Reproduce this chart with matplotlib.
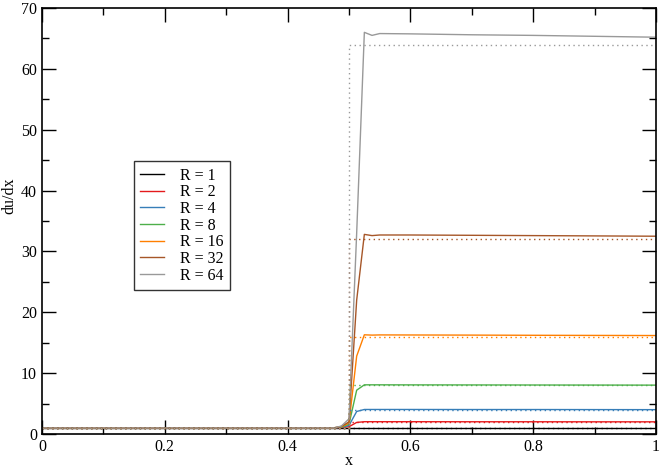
import matplotlib
matplotlib.use("Agg")
import matplotlib.pyplot as plt
from matplotlib.ticker import MultipleLocator, FuncFormatter

# ---- data ----
R_values = [1, 2, 4, 8, 16, 32, 64]
labels = ["R = 1", "R = 2", "R = 4", "R = 8", "R = 16", "R = 32", "R = 64"]
colors = ["#000000", "#e41a1c", "#377eb8", "#4daf4a", "#ff7f00", "#a65628", "#999999"]

x_num = [0.0, 0.475, 0.4875, 0.5, 0.5125, 0.525, 0.5375, 0.55, 0.6, 0.7, 0.8, 0.9, 1.0]
y_R1 = [1.0, 1.0, 1.0, 1.0, 1.0, 1.0, 1.0, 1.0, 1.0, 1.0, 1.0, 1.0, 1.0]
y_R2 = [1.0, 1.0, 1.05, 1.2, 1.9, 2.02, 2.02, 2.02, 2.02, 2.01, 2.01, 2.0, 2.0]
y_R4 = [1.0, 1.0, 1.1, 1.4, 3.7, 4.03, 4.03, 4.03, 4.03, 4.02, 4.02, 4.01, 4.0]
y_R8 = [1.0, 1.0, 1.15, 1.6, 7.2, 8.08, 8.08, 8.08, 8.07, 8.06, 8.05, 8.04, 8.03]
y_R16 = [1.0, 1.0, 1.2, 1.8, 12.8, 16.3, 16.25, 16.28, 16.27, 16.25, 16.22, 16.2, 16.18]
y_R32 = [1.0, 1.0, 1.25, 2.0, 22.0, 32.8, 32.6, 32.7, 32.7, 32.65, 32.6, 32.55, 32.5]
y_R64 = [1.0, 1.0, 1.3, 2.5, 33.0, 66.0, 65.5, 65.8, 65.75, 65.6, 65.5, 65.35, 65.2]
y_num = [y_R1, y_R2, y_R4, y_R8, y_R16, y_R32, y_R64]

x_exact = [0.0, 0.5, 0.5, 1.0]

# ---- plot ----
plt.rcParams['font.family'] = ['Liberation Serif', 'DejaVu Serif']
fig = plt.figure(figsize=(6.6, 4.7), dpi=100)
ax = fig.add_axes([42/660, 36/470, 614/660, 426/470])

for R, y, c, lab in zip(R_values, y_num, colors, labels):
    ax.plot(x_num, y, color=c, lw=1.0, label=lab)
for R, c in zip(R_values, colors):
    ax.plot(x_exact, [1, 1, R, R], color=c, lw=1.0, linestyle=(0, (1, 2.5)))

ax.set_xlim(0, 1)
ax.set_ylim(0, 70)
ax.xaxis.set_major_locator(MultipleLocator(0.2))
ax.xaxis.set_minor_locator(MultipleLocator(0.1))
ax.yaxis.set_major_locator(MultipleLocator(10))
ax.yaxis.set_minor_locator(MultipleLocator(5))
ax.xaxis.set_major_formatter(FuncFormatter(lambda v, p: "%g" % v))
ax.tick_params(which='both', direction='in', top=True, right=True, labelsize=11.5, width=1.0)
ax.tick_params(which='major', length=10)
ax.tick_params(which='minor', length=5)
for s in ax.spines.values():
    s.set_linewidth(1.2)
ax.set_xlabel("x", fontsize=11.5, labelpad=-1)
ax.set_ylabel("du/dx", fontsize=11.5)
ax.yaxis.set_label_coords(-0.04, 0.56)

leg = ax.legend(loc='upper left', bbox_to_anchor=(0.15, 0.64), fontsize=11.5,
                frameon=True, fancybox=False, handlelength=1.5, handletextpad=1.0,
                labelspacing=0.04, borderpad=0.4, borderaxespad=0)
leg.get_frame().set_edgecolor('black')
leg.get_frame().set_linewidth(1.0)

fig.savefig("out.png", dpi=100)
